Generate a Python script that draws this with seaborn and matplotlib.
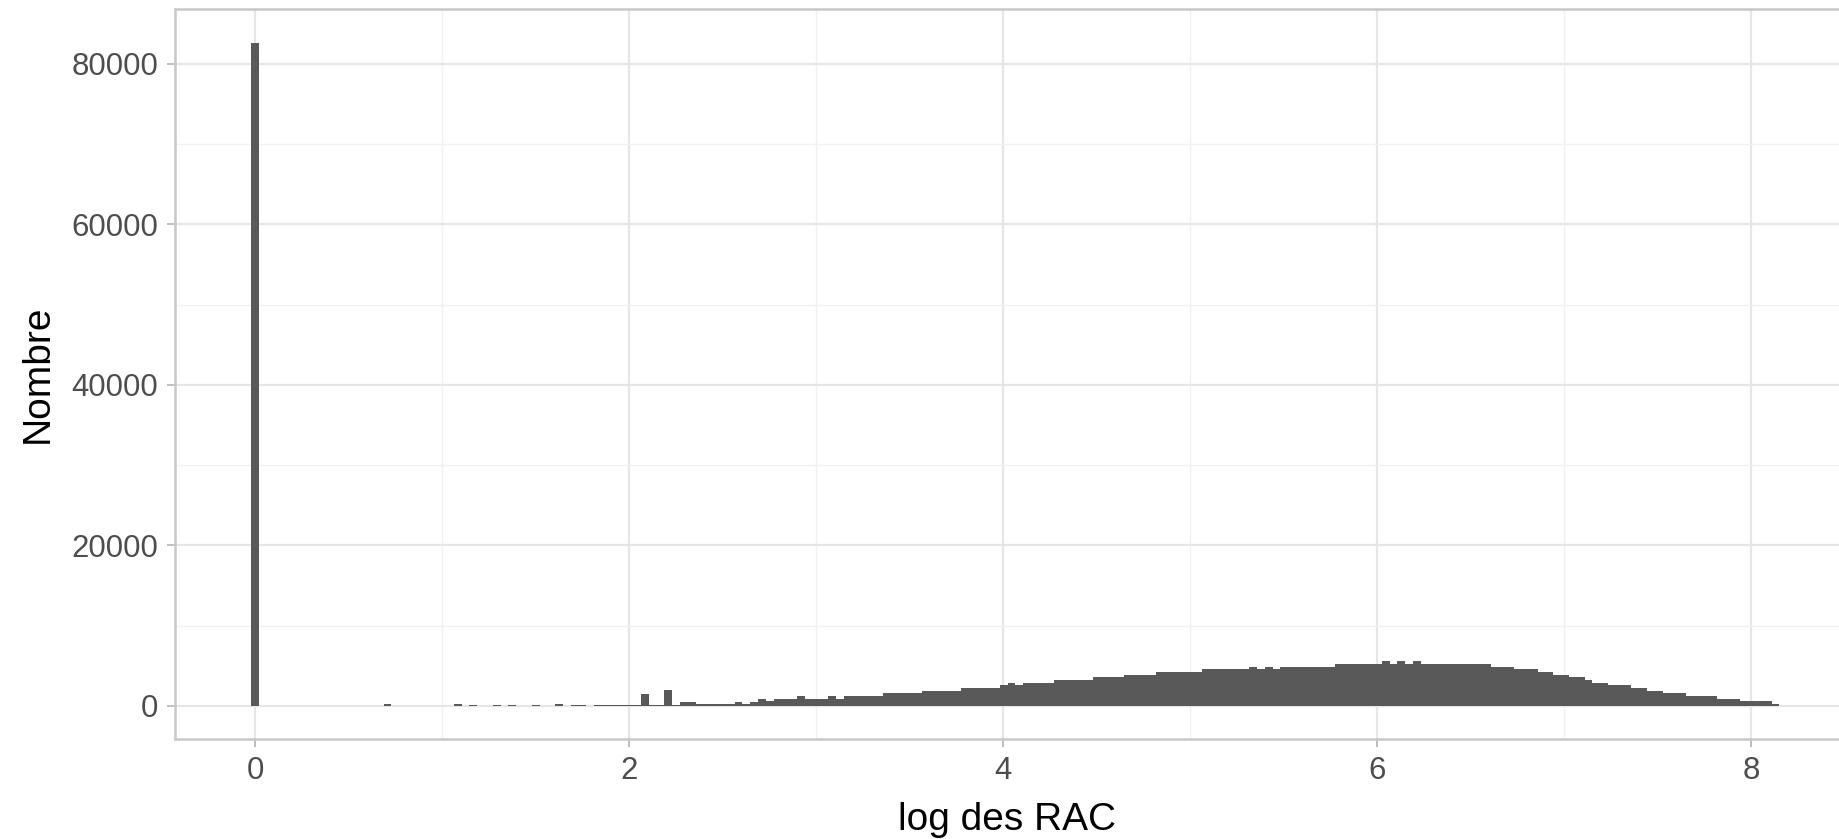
import numpy as np
import pandas as pd
import matplotlib
matplotlib.use("Agg")
import matplotlib.pyplot as plt
from matplotlib.ticker import MultipleLocator
import seaborn as sns

# ---- data: histogram of log(RAC), counts per bin (bin width ~0.0417) ----
BIN_W = 0.0417
count_zero_bin = [82650]
counts_low = [
    0, 0, 0, 0, 0, 0, 0, 0, 0, 40,
    0, 0, 40, 40, 0, 0, 250, 0, 0, 0,
    40, 40, 0, 0, 0, 250, 0, 60, 0, 0,
    60, 0, 100, 0, 0, 60, 0, 0, 250, 0,
    60, 60, 0, 60, 60, 60, 60, 60, 60,
]
counts_body = [
    1535, 100, 100, 1950, 100, 540, 540, 170, 170, 170,
    170, 170, 540, 200, 540, 870, 600, 913, 913, 913,
    1245, 913, 913, 913, 1200, 913, 1245, 1245, 1245, 1245,
    1245, 1580, 1580, 1580, 1580, 1580, 1900, 1900, 1900, 1900,
    1900, 2240, 2240, 2240, 2240, 2240, 2570, 2900, 2570, 2900,
    2900, 2900, 2900, 3240, 3240, 3240, 3240, 3240, 3570, 3570,
    3570, 3570, 3900, 3900, 3900, 3900, 4230, 4230, 4230, 4230,
    4230, 4230, 4565, 4565, 4565, 4565, 4565, 4565, 4900, 4565,
    4900, 4565, 4900, 4900, 4900, 4900, 4900, 4900, 4900, 5230,
    5230, 5230, 5230, 5230, 5230, 5560, 5230, 5560, 5230, 5560,
    5230, 5230, 5230, 5230, 5230, 5230, 5230, 5230, 5230, 4900,
    4900, 4900, 4565, 4565, 4565, 4230, 4230, 3900, 3900, 3570,
    3570, 3240, 2900, 2900, 2570, 2570, 2570, 2240, 2240, 1900,
    1900, 1580, 1580, 1580, 1245, 1245, 1245, 1245, 913, 913,
    913, 580, 580, 580, 580, 250,
]
x_ticks = [0, 2, 4, 6, 8]
y_ticks = [0, 20000, 40000, 60000, 80000]
x_label = "log des RAC"
y_label = "Nombre"

counts = count_zero_bin + counts_low + counts_body
n = len(counts)
centers = np.arange(n) * BIN_W
edges = ((np.arange(n + 1) - 0.5) * BIN_W).tolist()
df = pd.DataFrame({"x": centers, "n": counts})

sns.set_theme(style="white")
plt.rcParams['font.family'] = ['Liberation Sans', 'DejaVu Sans']

W, H = 1840, 839
fig = plt.figure(figsize=(W / 100, H / 100), dpi=100)
left, right, top, bottom = 175, 1840, 9.4, 739
ax = fig.add_axes([left / W, 1 - bottom / H, (right - left) / W, (bottom - top) / H])

sns.histplot(data=df, x="x", weights="n", bins=edges, element="step", fill=True,
             color="#595959", alpha=1, linewidth=0, ax=ax)

ax.set_xlim(-0.428, 8.476)
ax.set_ylim(-4132, 86782)
ax.set_xticks(x_ticks)
ax.set_yticks(y_ticks)
ax.set_yticklabels([str(v) for v in y_ticks])
ax.xaxis.set_minor_locator(MultipleLocator(1))
ax.yaxis.set_minor_locator(MultipleLocator(10000))
ax.set_axisbelow(True)
ax.grid(which='major', color='#E6E6E6', linewidth=1.6)
ax.grid(which='minor', color='#F1F1F1', linewidth=1.0)

for side in ['left', 'top', 'bottom']:
    ax.spines[side].set_color('#C8C8C8')
    ax.spines[side].set_linewidth(1.8)
ax.spines['right'].set_visible(False)

ax.tick_params(which='major', length=6, width=1.4, color='#C0C0C0',
               labelsize=22.4, labelcolor='#4D4D4D', pad=6, bottom=True, left=True)
ax.tick_params(which='minor', length=0)

ax.set_xlabel(x_label, fontsize=28, color='black', labelpad=12)
ax.set_ylabel(y_label, fontsize=28, color='black', labelpad=11)

fig.savefig("out.png", dpi=100)
